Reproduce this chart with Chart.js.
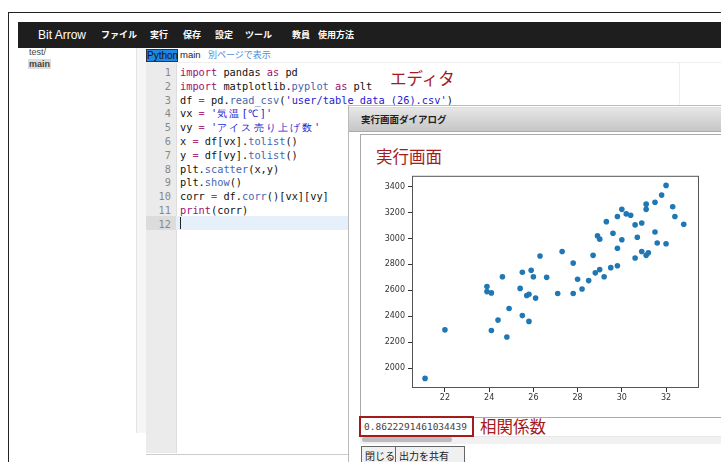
<!DOCTYPE html>
<html>
<head>
<meta charset="utf-8">
<script src="https://cdn.jsdelivr.net/npm/chart.js@4.4.1/dist/chart.umd.min.js"></script>
<style>
  body { margin: 0; background: #fff; }
  #page { position: relative; width: 721px; height: 462px; overflow: hidden; font-family: "Noto Sans CJK JP", "Liberation Sans", sans-serif; }
  .abs { position: absolute; }
  #frame { left: 8px; top: 12px; width: 760px; height: 500px; border: 1px solid #222; }
  #nav { left: 18px; top: 22px; width: 720px; height: 26px; background: #1e1e1e; color: #fff; }
  #nav span { position: absolute; top: 0; line-height: 26px; font-size: 9px; font-weight: bold; }
  #nav .brand { font-family: "Liberation Sans", sans-serif; font-size: 12px; font-weight: normal; }
  .files { font-size: 9px; color: #444; }
  #mainfile { background: #ddd; font-weight: bold; padding: 0 1px; }
  #pane { left: 136px; top: 48px; width: 10px; height: 385px; background: #f6f6f6; border-left: 1px solid #e4e4e4; }
  #tab { left: 146px; top: 49px; width: 32px; height: 13px; background: #1e88e5; color: #111; font-size: 10px; line-height: 12px; text-align: center; border: 1px solid #333; box-sizing: border-box; font-family: "Liberation Sans", sans-serif; }
  #editor { left: 146px; top: 62px; width: 203px; height: 391px; background: #fff; border-bottom: 1px solid #ccc; border-top: 1px solid #eee; }
  #gutter { left: 146px; top: 63px; width: 30px; height: 390px; background: #ebebeb; border-right: 1px solid #ddd; }
  .ln { position: absolute; left: 146px; width: 25px; text-align: right; color: #888; font-family: "DejaVu Sans Mono", monospace; font-size: 10.3px; line-height: 14px; }
  .code { position: absolute; left: 180px; white-space: pre; color: #111; font-family: "DejaVu Sans Mono", monospace; font-size: 10.3px; line-height: 14px; }
  .k { color: #a0106e; } .o { color: #b0307e; } .s { color: #1c1cd0; } .m { color: #4666b0; }
  .w { letter-spacing: 2.1px; }
  #curline { left: 176px; top: 216px; width: 172px; height: 14px; background: #e6f0fa; }
  #cursor { left: 180px; top: 217px; width: 1px; height: 12px; background: #222; }
  #gut12 { left: 146px; top: 216px; width: 30px; height: 14px; background: #dcdcdc; }
  .red { color: #a51a1a; font-size: 16.5px; white-space: nowrap; }
  #dialog { left: 348px; top: 105px; width: 400px; height: 400px; background: #fff; border: 1px solid #bbb; }
  #dhead { left: 349px; top: 107px; width: 400px; height: 23px; background: linear-gradient(#e6e6e6, #c6c6c6); border-top: 1px solid #ddd; border-bottom: 1px solid #aaa; font-size: 9.5px; font-weight: bold; line-height: 23px; color: #222; }
  #outbox { left: 360px; top: 134px; width: 400px; height: 282px; border: 1px solid #aaa; background: #fff; }
  #corr { left: 359px; top: 416px; width: 108px; height: 17px; border: 2px solid #a51a1a; font-family: "DejaVu Sans Mono", monospace; font-size: 9.5px; line-height: 17px; color: #444; padding-left: 3px; background: #fff; white-space: nowrap; overflow: hidden; }
  #track { left: 360px; top: 436px; width: 400px; height: 7px; background: #f1f1f1; border-top: 1px solid #e6e6e6; }
  #thumb { left: 362px; top: 437px; width: 90px; height: 5px; background: #bcbcbc; border-radius: 3px; }
  .btn { top: 446px; height: 20px; border: 1px solid #666; background: #f0f0f0; font-size: 10px; line-height: 17px; padding-left: 3px; box-sizing: border-box; color: #222; }
  #plot { left: 362px; top: 168px; }
</style>
</head>
<body>
<div id="page">
  <div id="frame" class="abs"></div>
  <div id="nav" class="abs">
    <span class="brand" style="left:20px">Bit Arrow</span>
    <span style="left:83px">ファイル</span>
    <span style="left:132px">実行</span>
    <span style="left:165px">保存</span>
    <span style="left:197px">設定</span>
    <span style="left:227px">ツール</span>
    <span style="left:274px">教員</span>
    <span style="left:300px">使用方法</span>
  </div>
  <div class="abs files" style="left:29px; top:47px; font-family:'Liberation Sans',sans-serif">test/</div>
  <div class="abs files" style="left:28px; top:59px; font-family:'Liberation Sans',sans-serif"><span id="mainfile">main</span></div>
  <div id="pane" class="abs"></div>

  <div id="tab" class="abs">Python</div>
  <div class="abs" style="left:180px; top:49px; font-size:9.5px; line-height:12px; color:#222; font-family:'Liberation Sans',sans-serif">main</div>
  <div class="abs" style="left:208px; top:48px; font-size:9px; line-height:13px; color:#4a8fd6">別ページで表示</div>
  <div class="abs" style="left:176px; top:62px; width:545px; height:1px; background:#eee"></div>
  <div class="abs" style="left:679px; top:63px; width:1px; height:42px; background:#eee"></div>

  <div id="editor" class="abs"></div>
  <div id="gutter" class="abs"></div>
  <div id="curline" class="abs"></div>
  <div id="gut12" class="abs"></div>
  <div id="cursor" class="abs"></div>
  <div id="lines"></div>

  <div class="abs red" style="left:390px; top:66px">エディタ</div>

  <div id="dialog" class="abs"></div>
  <div id="dhead" class="abs"><span style="padding-left:12px">実行画面ダイアログ</span></div>
  <div id="outbox" class="abs"></div>
  <div class="abs red" style="left:376px; top:144px">実行画面</div>
  <canvas id="plot" class="abs" width="350" height="245"></canvas>
  <div id="track" class="abs"></div>
  <div id="thumb" class="abs"></div>
  <div id="corr" class="abs">0.8622291461034439</div>
  <div class="abs red" style="left:480px; top:414px">相関係数</div>
  <div class="abs btn" style="left:361px; width:35px">閉じる</div>
  <div class="abs btn" style="left:395px; width:70px">出力を共有</div>
</div>

<script>
// temperature (x) and ice cream sales (y)
const tempData = [21.1, 22.0, 23.9, 23.9, 24.1, 24.1, 24.4, 24.6, 24.8, 24.9,
  25.4, 25.5, 25.5, 25.7, 25.8, 25.8, 25.9, 26.0, 26.1, 26.3,
  26.6, 27.1, 27.3, 27.8, 27.8, 28.0, 28.2, 28.5, 28.7, 28.8,
  28.9, 29.0, 29.0, 29.2, 29.3, 29.5, 29.6, 29.8, 29.8, 29.8,
  30.0, 30.0, 30.2, 30.4, 30.6, 30.6, 30.7, 30.9, 30.9, 31.1,
  31.1, 31.1, 31.2, 31.5, 31.5, 31.6, 31.8, 32.0, 32.0, 32.3,
  32.4, 32.8];
const salesData = [1920, 2295, 2630, 2590, 2580, 2290, 2370, 2705, 2240, 2460,
  2615, 2740, 2405, 2560, 2570, 2360, 2755, 2705, 2540, 2865,
  2700, 2575, 2900, 2810, 2575, 2685, 2610, 2675, 2870, 2735,
  3020, 2995, 2760, 2705, 3130, 2775, 3040, 3170, 2925, 2790,
  3225, 2990, 3190, 3180, 3105, 2850, 3010, 3120, 2900, 3265,
  3225, 2870, 2890, 3280, 3050, 2965, 3335, 3410, 2960, 3245,
  3170, 3110];
const xTicks = [22, 24, 26, 28, 30, 32];
const yTicks = [2000, 2200, 2400, 2600, 2800, 3000, 3200, 3400];
const xRange = [20.51, 33.49];
const yRange = [1846, 3484];

// editor source lines
const codeLines = [
  '<span class="k">import</span> pandas <span class="k">as</span> pd',
  '<span class="k">import</span> matplotlib.<span class="m">pyplot</span> <span class="k">as</span> plt',
  'df <span class="o">=</span> pd.<span class="m">read_csv</span>(<span class="s">\'user/table_data (26).csv\'</span>)',
  'vx <span class="o">=</span> <span class="s">\'<span class="w">気温</span>[<span class="w">℃</span>]\'</span>',
  'vy <span class="o">=</span> <span class="s">\'<span class="w">アイス売り上げ数</span>\'</span>',
  'x <span class="o">=</span> df[vx].<span class="m">tolist</span>()',
  'y <span class="o">=</span> df[vy].<span class="m">tolist</span>()',
  'plt.<span class="m">scatter</span>(x,y)',
  'plt.<span class="m">show</span>()',
  'corr <span class="o">=</span> df.<span class="m">corr</span>()[vx][vy]',
  '<span class="k">print</span>(corr)',
  ''
];

const linesEl = document.getElementById('lines');
codeLines.forEach((html, i) => {
  const top = Math.round(65 + i * 13.8);
  linesEl.insertAdjacentHTML('beforeend',
    `<div class="ln" style="top:${top}px">${i + 1}</div><div class="code" style="top:${top}px">${html}</div>`);
});

// box around the plot area, like matplotlib spines
const framePlugin = {
  id: 'frame',
  afterDraw(chart) {
    const { ctx, chartArea: a } = chart;
    ctx.save();
    ctx.strokeStyle = '#555';
    ctx.lineWidth = 1;
    ctx.strokeRect(a.left + 0.5, a.top + 0.5, a.right - a.left - 1, a.bottom - a.top - 1);
    ctx.restore();
  }
};

const tickFont = { family: 'DejaVu Sans', size: 8 };

new Chart(document.getElementById('plot'), {
  type: 'scatter',
  data: {
    datasets: [{
      data: tempData.map((t, i) => ({ x: t, y: salesData[i] })),
      backgroundColor: '#1f77b4',
      borderWidth: 0,
      pointRadius: 2.8,
      pointHoverRadius: 2.8
    }]
  },
  options: {
    responsive: false,
    animation: false,
    layout: { padding: { left: 0, top: 7, right: 13, bottom: 0 } },
    plugins: { legend: { display: false }, tooltip: { enabled: false } },
    scales: {
      x: {
        type: 'linear',
        min: xRange[0],
        max: xRange[1],
        afterBuildTicks: s => { s.ticks = xTicks.map(v => ({ value: v })); },
        afterFit: s => { s.height = 25; },
        grid: { drawOnChartArea: false, tickLength: 4, tickColor: '#333' },
        border: { display: false },
        ticks: { font: tickFont, color: '#333', padding: 1, maxRotation: 0, callback: v => String(v) }
      },
      y: {
        type: 'linear',
        min: yRange[0],
        max: yRange[1],
        afterBuildTicks: s => { s.ticks = yTicks.map(v => ({ value: v })); },
        afterFit: s => { s.width = 50; },
        grid: { drawOnChartArea: false, tickLength: 4, tickColor: '#333' },
        border: { display: false },
        ticks: { font: tickFont, color: '#333', padding: 3, callback: v => String(v) }
      }
    }
  },
  plugins: [framePlugin]
});
</script>
</body>
</html>
